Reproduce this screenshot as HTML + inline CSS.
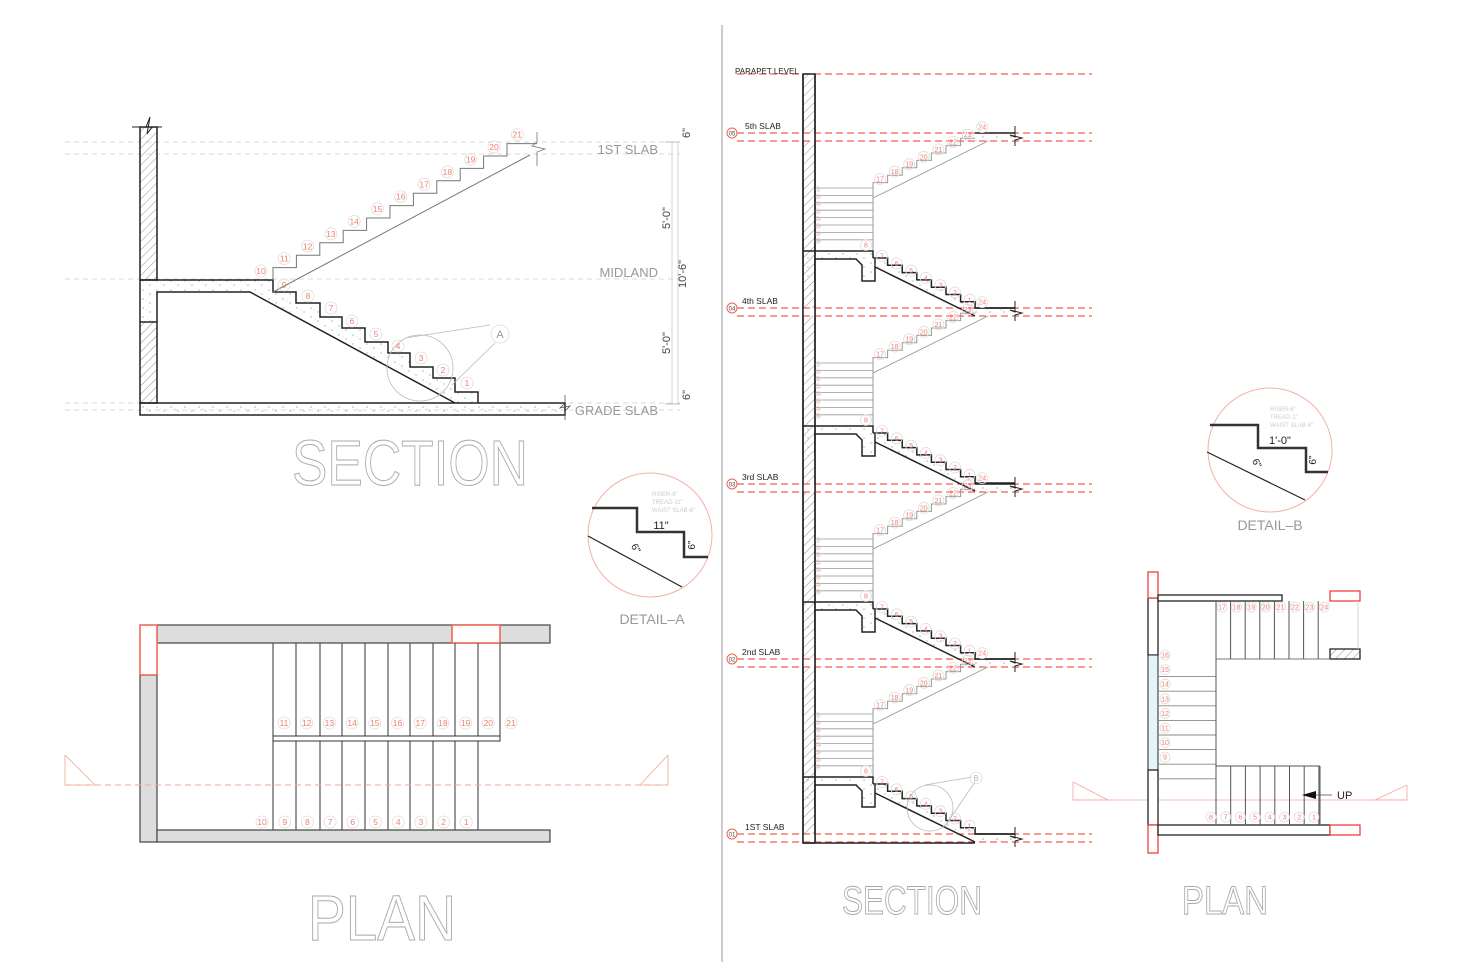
<!DOCTYPE html>
<html><head><meta charset="utf-8"><style>
html,body{margin:0;padding:0;background:#fff;width:1468px;height:962px;overflow:hidden}
svg{display:block}
text{font-family:"Liberation Sans",sans-serif}
</style></head><body>
<svg id="s" width="1468" height="962" viewBox="0 0 1468 962" xmlns="http://www.w3.org/2000/svg">
<defs>
<pattern id="h" width="6" height="6" patternUnits="userSpaceOnUse" patternTransform="rotate(45)">
<line x1="0" y1="0" x2="0" y2="6" stroke="#777" stroke-width="0.8"/></pattern>
<pattern id="dots" width="14" height="9" patternUnits="userSpaceOnUse">
<circle cx="3" cy="2" r="0.6" fill="#888"/><circle cx="10" cy="6" r="0.6" fill="#888"/><circle cx="7" cy="4" r="0.4" fill="#aaa"/></pattern>
</defs>
<g id="g"></g>
</svg>
<script>
const g=document.getElementById('g');let o='';
function L(x1,y1,x2,y2,c,w,d){o+=`<line x1="${x1}" y1="${y1}" x2="${x2}" y2="${y2}" stroke="${c||'#222'}" stroke-width="${w||1}" ${d?`stroke-dasharray="${d}"`:''}/>`}
function R(x,y,w,h,f,c,sw){o+=`<rect x="${x}" y="${y}" width="${w}" height="${h}" fill="${f||'none'}" stroke="${c||'none'}" stroke-width="${sw||1}"/>`}
function P(pts,c,w,f){o+=`<polyline points="${pts.map(p=>p.join(',')).join(' ')}" fill="${f||'none'}" stroke="${c||'#222'}" stroke-width="${w||1}"/>`}
function T(x,y,t,s,c,a,extra){o+=`<text x="${x}" y="${y}" font-size="${s}" fill="${c}" text-anchor="${a||'start'}" ${extra||''}>${t}</text>`}
function N(x,y,n,r,fs,c){r=r||6;fs=fs||8;c=c||'#f08070';o+=`<circle cx="${x}" cy="${y}" r="${r}" fill="none" stroke="#ddd" stroke-width="0.8"/>`;T(x,y+fs*0.36,n,fs,c,'middle')}
L(722,25,722,962,'#aaa',1.2);
[142,154,279,403,410].forEach(y=>L(65,y,680,y,'#ccc',0.8,'5,4'));
R(140,127,17,153,'url(#h)','#222',1.5);R(140,322,17,81,'url(#h)','#222',1.5);
P([[132,127],[146,127],[150,117],[147,134],[152,127],[162,127]],'#222',1);
let xs=[273,296,320,342,365,388,410,433,455,478],ys=[292,303,317,328,342,353,367,378,392,403];
let pts=[[140,280],[273,280],[273,292]];
for(let i=1;i<10;i++){pts.push([xs[i],ys[i-1]]);pts.push([xs[i],ys[i]]);}
o+=`<polygon points="${[[140,280],[273,280],...pts.slice(2),[455,403],[250,292],[157,292],[157,322],[140,322]].map(p=>p.join(',')).join(' ')}" fill="url(#dots)" stroke="none"/>`;
R(140,403,425,12,'url(#dots)','#222',1.5);
P(pts,'#222',1.5);P([[157,322],[157,292],[250,292],[455,403]],'#222',1.5);
L(140,280,140,322,'#222',1.5);L(140,322,157,322,'#222',1);
P([[565,395],[565,403],[560,408],[570,406],[565,411],[565,420]],'#555',0.8);
let up=[[273,280]],x=273,y=280;for(let i=0;i<11;i++){y-=12.4;up.push([x,y]);x+=23.4;up.push([x,y]);}
up[up.length-1]=[537,y];
P(up,'#777',1);L(273,292,530,155,'#777',1);
P([[537,132],[537,142],[532,146],[545,149],[537,152],[537,166]],'#777',0.8);
for(let i=0;i<12;i++){N(261+i*23.3,271-i*12.4,10+i,6,8.5);}
[[284,285,9],[308,296,8],[331,308,7],[352,321,6],[376,334,5],[398,346,4],[421,358,3],[443,370,2],[467,383,1]].forEach(a=>N(a[0],a[1],a[2],6,8.5));
o+=`<circle cx="420" cy="368" r="33" fill="none" stroke="#bbb" stroke-width="0.8"/>`;L(405,338,490,325,'#bbb',0.8);L(452,385,495,343,'#bbb',0.8);
N(500,334,'A',9,11,'#999');
T(658,154,'1ST SLAB',13,'#999','end');T(658,277,'MIDLAND',13,'#999','end');T(658,415,'GRADE SLAB',13,'#999','end');
L(665,142,680,142,'#bbb');L(665,404,680,404,'#bbb');L(672,142,672,404,'#ccc',0.8);L(678,142,678,404,'#ccc',0.8);
[[690,133,'6"'],[670,218,"5'-0\""],[686,274,"10'-6\""],[670,343,"5'-0\""],[690,395,'6"']].forEach(a=>T(a[0],a[1],a[2],11,'#444','middle',`transform="rotate(-90 ${a[0]} ${a[1]})"`));
T(410,485,'SECTION',64,'#fff','middle','stroke="#aaa" stroke-width="1" textLength="236" lengthAdjust="spacingAndGlyphs"');
o+=`<circle cx="650" cy="535" r="62" fill="none" stroke="#f5b0a8" stroke-width="1"/>`;
P([[592,508],[637,508],[637,532],[684,532],[684,557],[708,557]],'#333',2.5);
L(588,536,682,587,'#222',1.2);T(661,529,'11"',11,'#222','middle');
T(695,545,'6"',10,'#222','middle','transform="rotate(-90 695 545)"');T(633,550,'6"',10,'#222','middle','transform="rotate(60 633 550)"');
T(652,496,'RISER-6"',6,'#ccc');T(652,504,'TREAD-11"',6,'#ccc');T(652,512,'WAIST SLAB-6"',6,'#ccc');
T(652,624,'DETAIL\u2013A',14,'#999','middle');
R(157,625,393,18,'#ddd','#444',1.2);R(140,675,17,167,'#ddd','#444',1.2);R(157,830,393,12,'#ddd','#444',1.2);
R(140,625,17,50,'#fff','#f06050',1.5);R(452,625,48,18,'#fff','#f06050',1.5);
let px=[273,296,320,342,365,388,410,433,455,478,500];
px.forEach((x,i)=>{L(x,643,x,736,'#555',1.2);if(i<10)L(x,741,x,830,'#555',1.2);});
R(273,736,227,5,'#fff','#333',1);
for(let i=0;i<11;i++)N(284+i*22.7,723,11+i,6,8.5);
for(let i=0;i<10;i++)N(262+i*22.7,822,10-i,6,8.5);
L(65,785,668,785,'#f5a59a',1,'6,4');P([[65,755],[65,785],[95,785]],'#f5a59a',0.8);P([[668,755],[668,785],[640,785]],'#f5a59a',0.8);
L(65,755,95,785,'#f5a59a',0.8);L(668,755,640,785,'#f5a59a',0.8);
T(382,940,'PLAN',64,'#fff','middle','stroke="#aaa" stroke-width="1" textLength="148" lengthAdjust="spacingAndGlyphs"');
L(737,74,1092,74,'#f06050',1.3,'7,4');T(735,74,'PARAPET LEVEL',8,'#222');
const slabs=[[133,'5th SLAB','05'],[308,'4th SLAB','04'],[484,'3rd SLAB','03'],[659,'2nd SLAB','02'],[834,'1ST SLAB','01']];
R(803,74,12,769,'url(#h)','#222',1.5);
slabs.forEach(s=>{let Y=s[0];
 R(803,Y,12,8,'#fff','none');
 L(737,Y,1092,Y,'#f06050',1.3,'7,4');L(737,Y+8,1092,Y+8,'#f06050',1.3,'7,4');
 o+=`<circle cx="732" cy="${Y}" r="5" fill="#fff" stroke="#f06050" stroke-width="1"/>`;T(732,Y+2.5,s[2],6,'#444','middle');
 T(s[1]=='4th SLAB'||s[1]=='3rd SLAB'||s[1]=='2nd SLAB'?742:745,Y-4,s[1],8.5,'#222');
 R(975,Y,40,8,'url(#dots)','none');L(975,Y,1015,Y,'#222',1.5);
 P([[1015,Y-7],[1015,Y+4],[1010,Y+2],[1022,Y+5],[1015,Y+7],[1015,Y+13]],'#222',1);
});
[133,308,484,659].forEach(Tp=>{
 let u=[[873,Tp+57]],x=873,y=Tp+57;
 for(let i=0;i<7;i++){y-=7.4;u.push([x,y]);x+=14.6;u.push([x,y]);}
 P(u,'#999',1);L(873,Tp+65,988,Tp+8,'#999',0.9);L(873,Tp+57,873,Tp+117,'#999',1);
 for(let i=0;i<8;i++)N(880+i*14.6,Tp+46-i*7.4,17+i,5.5,7);
 for(let i=0;i<8;i++){L(815,Tp+55+i*7.4,873,Tp+55+i*7.4,'#999',0.8);N(818,Tp+56+i*7.4,9+i,2.5,3.5);}
 let Ly=Tp+118;
 R(803,Ly,72,30,'url(#dots)','none');R(815,Ly+8,47,22,'#fff','none');
 P([[803,Ly],[873,Ly],[873,Ly+7]],'#222',1.5);P([[815,Ly+30],[815,Ly+8],[856,Ly+8],[862,Ly+14],[862,Ly+30],[875,Ly+30],[875,Ly+8]],'#222',1.5);
 N(866,Ly-6,8,5.5,7);
 let lw=[[873,Ly+7]];x=873;y=Ly+7;
 for(let i=0;i<7;i++){x+=14.6;lw.push([x,y]);y+=7.3;lw.push([x,y]);}
 lw[lw.length-1]=[975,Tp+175];lw.push([1015,Tp+175]);
 o+=`<polygon points="${lw.map(p=>p.join(',')).join(' ')} 1015,${Tp+183} 975,${Tp+183} 875,${Ly+16}" fill="url(#dots)"/>`;
 P(lw,'#222',1.5);L(875,Ly+16,975,Tp+183,'#222',1.5);
 for(let i=0;i<7;i++)N(882+i*14.6,Ly+5+i*7.3,7-i,5.5,7);
});
L(803,74,803,843,'#222',1.5);L(815,74,815,843,'#222',1.5);L(803,843,975,843,'#222',1.5);
o+=`<circle cx="930" cy="808" r="23" fill="none" stroke="#bbb" stroke-width="0.8"/>`;L(925,785,972,777,'#bbb',0.8);L(945,826,975,782,'#bbb',0.8);N(976,778,'B',6,8,'#bbb');
T(912,914,'SECTION',40,'#fff','middle','stroke="#aaa" stroke-width="1" textLength="140" lengthAdjust="spacingAndGlyphs"');
o+=`<circle cx="1270" cy="450" r="62" fill="none" stroke="#f5b0a8" stroke-width="1"/>`;
P([[1210,425],[1258,425],[1258,448],[1306,448],[1306,472],[1328,472]],'#333',2.5);
L(1207,452,1305,500,'#222',1.2);T(1280,444,"1'-0\"",11,'#222','middle');
T(1316,460,'6"',10,'#222','middle','transform="rotate(-90 1316 460)"');T(1254,465,'6"',10,'#222','middle','transform="rotate(60 1254 465)"');
T(1270,411,'RISER-6"',6,'#ccc');T(1270,419,'TREAD-1"',6,'#ccc');T(1270,427,'WAIST SLAB-6"',6,'#ccc');
T(1270,530,'DETAIL\u2013B',14,'#999','middle');
L(1073,800,1407,800,'#f5a59a',0.8);P([[1073,782],[1073,800],[1108,800],[1073,782]],'#f5a59a',0.8);P([[1407,785],[1407,800],[1375,800],[1407,785]],'#f5a59a',0.8);
R(1148,598,10,57,'#fff','#222',1.3);R(1148,655,10,115,'#e4f4f8','#222',1);R(1148,770,10,55,'#fff','#222',1.3);
R(1148,572,10,26,'#fff','#f04040',1.3);R(1148,825,10,28,'#fff','#f04040',1.3);
R(1158,595,124,6,'#fff','#222',1.3);R(1330,591,30,10,'#fff','#f04040',1.3);R(1330,649,30,10,'url(#h)','#222',1.3);
R(1158,825,172,10,'#fff','#222',1.3);R(1330,825,30,10,'#fff','#f04040',1.3);
for(let i=0;i<8;i++){let x=1216+i*14.6;L(x,601,x,659,'#555',1);N(1222+i*14.6,607,17+i,5,7);}
L(1216,659,1330,659,'#777',1);L(1358,601,1358,649,'#ccc',0.8);
for(let i=1;i<9;i++){L(1158,662+i*14.6,1216,662+i*14.6,'#888',0.9);}
for(let i=0;i<8;i++)N(1165,655+i*14.6,16-i,5,7);
L(1216,659,1216,766,'#555',1);L(1216,766,1320,766,'#555',1);
for(let i=0;i<8;i++){let x=1216+i*14.7;L(x,766,x,825,'#555',1);}L(1320,766,1320,825,'#555',1);
for(let i=0;i<8;i++)N(1211+i*14.7,817,8-i,5,7);
o+=`<polygon points="1302,795 1316,791 1316,799" fill="#111"/>`;L(1316,795,1332,795,'#555',0.8);T(1337,799,'UP',11,'#222');
T(1225,914,'PLAN',40,'#fff','middle','stroke="#aaa" stroke-width="1" textLength="86" lengthAdjust="spacingAndGlyphs"');
g.innerHTML=o;
</script>
</body></html>
